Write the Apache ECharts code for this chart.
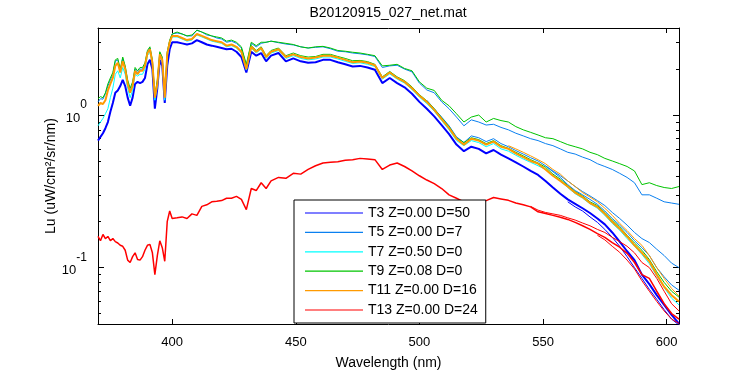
<!DOCTYPE html>
<html>
<head>
<meta charset="utf-8">
<script src="https://cdn.jsdelivr.net/npm/echarts@6/dist/echarts.min.js"></script>
<style>
  html, body { margin: 0; padding: 0; background: #fff; }
  #chart { width: 750px; height: 375px; }
</style>
</head>
<body>
<div id="chart"></div>
<script>
// wavelength grid (nm)
const wavelengths = [
  370, 371, 372, 373, 374, 375, 376, 377, 378, 379, 380, 381, 382, 383, 384, 385, 386, 387, 388, 389,
  390, 391, 392, 393, 394, 395, 396, 397, 398, 399, 400,
  402, 404, 406, 408, 410, 412, 414, 416, 418, 420, 422, 424, 426, 428, 430, 432, 434, 436, 438, 440,
  443, 446, 449, 452, 455, 458, 461, 464, 467, 470, 473, 476, 479, 482, 485, 488, 491, 494, 497, 500,
  503, 506, 509, 512, 515, 518, 521, 524, 527, 530, 533, 536, 539, 542, 545, 548, 551, 554, 557, 560,
  563, 566, 569, 572, 575, 578, 581, 584, 587, 590, 593, 596, 599, 602, 605
]

const names = ['T3 Z=0.00 D=50', 'T5 Z=0.00 D=7', 'T7 Z=0.50 D=0', 'T9 Z=0.08 D=0', 'T11 Z=0.00 D=16', 'T13 Z=0.00 D=24']
const colors = ['#0000ff', '#0a80f0', '#00ffff', '#00c400', '#ff9a00', '#ff0000']

// T3
const t3a = [
  0.68, 0.72, 0.76, 0.82, 0.9, 1.05, 1.2, 1.4, 1.45, 1.55, 1.7, 1.55, 1.3, 1.15, 1.3, 1.6, 1.65, 1.62, 1.65, 1.75,
  2.15, 2.3, 2.0, 1.1, 1.5, 2.3, 2.1, 1.2, 2.1, 2.7, 3.0,
  3.0, 2.95, 2.9, 2.95, 3.1, 3.0, 2.9, 2.85, 2.8, 2.75, 2.7, 2.72, 2.6, 2.4, 1.9, 2.6, 2.45, 2.55, 2.25, 2.45,
  2.55, 2.25, 2.35, 2.25, 2.2, 2.22, 2.3, 2.3, 2.22, 2.15, 2.08, 2.1, 2.05, 1.98, 1.62, 1.75, 1.62, 1.52, 1.38, 1.22,
  1.1, 0.98, 0.86, 0.75, 0.64, 0.58, 0.62, 0.6, 0.56, 0.59, 0.55, 0.52, 0.49, 0.46, 0.43, 0.405, 0.37, 0.335, 0.305, 0.28,
  0.262, 0.245, 0.228, 0.21, 0.192, 0.17, 0.148, 0.128, 0.112, 0.09, 0.078, 0.066, 0.057, 0.049, 0.043
]
const t3b = [0.27, 0.25, 0.235, 0.215, 0.198, 0.178, 0.158, 0.138, 0.118, 0.1, 0.085, 0.072, 0.062, 0.053, 0.046, 0.042] // from 560

// T5
const t5high = [
  1.22, 1.28, 1.27, 1.38, 1.55, 1.7, 1.85, 2.25, 2.3, 1.95, 2.35, 2.05, 1.65, 1.45, 1.6, 2.0, 1.9, 2.0, 2.0, 2.15,
  2.6, 2.75, 2.25, 1.3, 1.65, 2.55, 2.35, 1.3, 2.55, 3.05, 3.4,
  3.45, 3.4, 3.3, 3.3, 3.6, 3.5, 3.35, 3.3, 3.2, 3.15, 3.0, 3.05, 2.95, 2.75, 2.1, 2.95, 2.8, 2.95, 3.0, 3.05,
  2.98, 2.92, 2.88, 2.8, 2.75, 2.78, 2.8, 2.72, 2.62, 2.6, 2.55, 2.52, 2.48, 2.42, 2.05, 2.1, 2.12, 2.0, 1.92, 1.62,
  1.46, 1.4, 1.22, 1.1, 0.97, 0.85, 0.93, 0.9, 0.86, 0.87, 0.83, 0.8, 0.76, 0.73, 0.7, 0.68, 0.65, 0.63, 0.6, 0.57,
  0.555, 0.53, 0.51, 0.48, 0.46, 0.44, 0.415, 0.39, 0.36, 0.3, 0.3, 0.285, 0.27, 0.265, 0.26
]
const t5bundle = [
  1.25, 1.1, 0.97, 0.85, 0.72, 0.66, 0.73, 0.71, 0.67, 0.7, 0.65, 0.62, 0.585, 0.555, 0.525, 0.5, 0.465, 0.425, 0.39, 0.35,
  0.32, 0.3, 0.28, 0.26, 0.235, 0.21, 0.19, 0.17, 0.15, 0.135, 0.12, 0.1, 0.087, 0.077, 0.071
] // from 503
const t5mid = [
  0.465, 0.43, 0.4, 0.37, 0.34, 0.315, 0.295, 0.275, 0.255, 0.23, 0.21, 0.19, 0.17, 0.155, 0.146, 0.132, 0.12, 0.107, 0.1
] // from 551

// T7
const t7 = [
  0.85, 0.9, 0.95, 1.02, 1.1, 1.3, 1.5, 1.85, 1.95, 1.75, 2.05, 1.85, 1.5, 1.3, 1.45, 1.85, 1.8, 1.85, 1.85, 2.0,
  2.45, 2.6, 2.15, 1.25, 1.55, 2.45, 2.25, 1.25, 2.4, 2.95, 3.25,
  3.25, 3.15, 3.05, 3.1, 3.35, 3.25, 3.15, 3.05, 3.0, 2.95, 2.8, 2.85, 2.75, 2.55, 1.97, 2.75, 2.55, 2.7, 2.35, 2.55,
  2.65, 2.35, 2.45, 2.35, 2.3, 2.33, 2.4, 2.4, 2.33, 2.25, 2.18, 2.2, 2.15, 2.08, 1.72, 1.86, 1.72, 1.62, 1.47, 1.31,
  1.19, 1.06, 0.92, 0.8, 0.68, 0.63, 0.68, 0.66, 0.62, 0.65, 0.6, 0.58, 0.545, 0.515, 0.49, 0.465, 0.44, 0.4, 0.37, 0.335,
  0.305, 0.285, 0.262, 0.245, 0.22, 0.195, 0.176, 0.155, 0.138, 0.122, 0.106, 0.088, 0.074, 0.063, 0.057
]

// T9
const t9high = [
  1.28, 1.32, 1.3, 1.4, 1.6, 1.75, 1.9, 2.3, 2.35, 2.0, 2.4, 2.1, 1.7, 1.5, 1.65, 2.05, 1.95, 2.05, 2.05, 2.2,
  2.65, 2.8, 2.3, 1.35, 1.7, 2.6, 2.4, 1.35, 2.6, 3.1, 3.4,
  3.5, 3.4, 3.3, 3.35, 3.6, 3.5, 3.4, 3.3, 3.25, 3.2, 3.05, 3.1, 3.0, 2.8, 2.15, 3.0, 2.85, 3.0, 3.0, 3.05,
  3.0, 2.95, 2.9, 2.8, 2.75, 2.8, 2.82, 2.75, 2.65, 2.62, 2.58, 2.55, 2.5, 2.45, 2.1, 2.12, 2.15, 2.02, 1.95, 1.65,
  1.5, 1.45, 1.25, 1.15, 1.02, 0.9, 0.97, 1.0, 0.9, 0.95, 0.92, 0.9, 0.84, 0.8, 0.77, 0.74, 0.71, 0.7, 0.67, 0.64,
  0.62, 0.6, 0.57, 0.55, 0.52, 0.5, 0.48, 0.46, 0.43, 0.35, 0.36, 0.345, 0.335, 0.33, 0.34
]
const t9bundle = [
  2.7, 2.05, 2.85, 2.65, 2.8, 2.45, 2.65,
  2.75, 2.45, 2.55, 2.45, 2.4, 2.42, 2.5, 2.5, 2.42, 2.35, 2.27, 2.28, 2.24, 2.15, 1.78, 1.93, 1.78, 1.68, 1.53, 1.36,
  1.24, 1.1, 0.96, 0.84, 0.71, 0.66, 0.71, 0.69, 0.65, 0.68, 0.63, 0.605, 0.57, 0.54, 0.51, 0.485, 0.455, 0.41, 0.38, 0.345,
  0.315, 0.295, 0.27, 0.255, 0.23, 0.205, 0.185, 0.163, 0.145, 0.13, 0.113, 0.094, 0.08, 0.07, 0.064
] // from 428

// T11
const t11 = [
  1.15, 1.2, 1.18, 1.25, 1.45, 1.6, 1.75, 2.1, 2.2, 1.9, 2.25, 2.0, 1.6, 1.4, 1.55, 1.95, 1.85, 1.95, 1.95, 2.1,
  2.55, 2.7, 2.2, 1.3, 1.6, 2.5, 2.3, 1.3, 2.5, 3.0, 3.3,
  3.3, 3.2, 3.1, 3.15, 3.4, 3.3, 3.2, 3.1, 3.05, 3.0, 2.85, 2.9, 2.8, 2.6, 2.0, 2.8, 2.6, 2.75, 2.4, 2.6,
  2.7, 2.4, 2.5, 2.4, 2.35, 2.38, 2.45, 2.45, 2.38, 2.3, 2.22, 2.24, 2.2, 2.12, 1.75, 1.9, 1.75, 1.65, 1.5, 1.34,
  1.22, 1.08, 0.94, 0.82, 0.7, 0.64, 0.7, 0.68, 0.64, 0.67, 0.62, 0.6, 0.56, 0.53, 0.5, 0.48, 0.44, 0.4, 0.37, 0.34,
  0.31, 0.29, 0.265, 0.25, 0.225, 0.2, 0.18, 0.16, 0.14, 0.125, 0.11, 0.09, 0.075, 0.066, 0.06
]
const t11thin = [
  0.63, 0.6, 0.57, 0.54, 0.51, 0.48, 0.44, 0.41, 0.37, 0.34, 0.31, 0.29, 0.27, 0.245, 0.22, 0.195, 0.175, 0.155, 0.14, 0.12,
  0.1, 0.085, 0.073, 0.065
] // from 536

// T13
const t13 = [
  0.16, 0.15, 0.165, 0.155, 0.16, 0.15, 0.155, 0.148, 0.145, 0.14, 0.138, 0.13, 0.112, 0.108, 0.118, 0.125, 0.113, 0.112, 0.118, 0.13,
  0.14, 0.142, 0.125, 0.09, 0.12, 0.15, 0.135, 0.11, 0.2, 0.235, 0.21,
  0.212, 0.215, 0.21, 0.225, 0.22, 0.252, 0.258, 0.27, 0.272, 0.275, 0.285, 0.285, 0.293, 0.28, 0.24, 0.33, 0.32, 0.36, 0.33, 0.37,
  0.39, 0.385, 0.415, 0.41, 0.44, 0.465, 0.485, 0.49, 0.495, 0.505, 0.51, 0.52, 0.515, 0.51, 0.44, 0.47, 0.485, 0.46, 0.43, 0.4,
  0.375, 0.355, 0.33, 0.3, 0.285, 0.27, 0.268, 0.265, 0.275, 0.288, 0.282, 0.276, 0.265, 0.258, 0.25, 0.232, 0.226, 0.22, 0.214, 0.207,
  0.198, 0.188, 0.178, 0.167, 0.158, 0.146, 0.136, 0.124, 0.108, 0.09, 0.085, 0.07, 0.058, 0.05, 0.046
]
const t13b = [0.252, 0.238, 0.23, 0.225, 0.22, 0.212, 0.205, 0.196, 0.188, 0.178, 0.17, 0.158, 0.148, 0.138, 0.125, 0.108, 0.1, 0.085, 0.07, 0.058, 0.052] // from 545
const t13c = [0.163, 0.152, 0.138, 0.126, 0.112, 0.098, 0.082, 0.07, 0.06, 0.052, 0.046, 0.043] // from 572

const xTicks = [400, 450, 500, 550, 600]
const yTicks = [0.1, 1]
const yMinorTicks = [0.05, 0.06, 0.07, 0.08, 0.09, 0.2, 0.3, 0.4, 0.5, 0.6, 0.7, 0.8, 0.9, 2, 3]

const X_MIN = 370, X_MAX = 605
const Y_MIN = 0.0427, Y_MAX = 3.72
const font = 'Liberation Sans, Arial, sans-serif'

function pairs(start, vals) {
  const i0 = wavelengths.indexOf(start)
  return vals.map((v, i) => [wavelengths[i0 + i], v])
}

function line(k, data, width) {
  return {
    type: 'line',
    name: names[k],
    data,
    symbol: 'none',
    color: colors[k],
    lineStyle: { width: width || 1, color: colors[k] },
    emphasis: { disabled: true },
  }
}

const chart = echarts.init(document.getElementById('chart'), null, { renderer: 'canvas' })

const xBase = {
  type: 'value', min: X_MIN, max: X_MAX,
  axisLine: { show: true, onZero: false, lineStyle: { color: '#000', width: 1 } },
  axisTick: { show: true, inside: true, length: 5, customValues: xTicks, lineStyle: { color: '#000' } },
  splitLine: { show: false },
}
const yBase = {
  type: 'log', min: Y_MIN, max: Y_MAX,
  axisLine: { show: true, onZero: false, lineStyle: { color: '#000', width: 1 } },
  axisTick: { show: true, inside: true, length: 6, customValues: yTicks, lineStyle: { color: '#000' } },
  splitLine: { show: false },
  axisLabel: { show: false },
}
const yMinor = {
  type: 'log', min: Y_MIN, max: Y_MAX,
  axisLine: { show: false },
  axisTick: { show: true, inside: true, length: 3, customValues: yMinorTicks, lineStyle: { color: '#000' } },
  splitLine: { show: false },
  axisLabel: { show: false },
}

chart.setOption({
  animation: false,
  backgroundColor: '#fff',
  textStyle: { fontFamily: font },
  title: {
    text: 'B20120915_027_net.mat',
    left: 388, top: 6, padding: 0, textAlign: 'center',
    textStyle: { fontSize: 14, fontWeight: 'normal', color: '#000', fontFamily: font },
  },
  grid: { left: 98, right: 71, top: 28, bottom: 44 },
  legend: {
    data: names.map((n, i) => ({ name: n, itemStyle: { color: colors[i], opacity: 1 } })),
    icon: 'rect',
    orient: 'vertical',
    left: 294, top: 200,
    backgroundColor: '#fff',
    borderColor: '#000', borderWidth: 1, borderRadius: 0,
    padding: [6, 8, 6, 11],
    itemWidth: 58, itemHeight: 1.2, itemGap: 5.4,
    textStyle: { fontSize: 14, color: '#000', fontFamily: font },
    z: 10,
  },
  xAxis: [
    Object.assign({}, xBase, {
      position: 'bottom',
      name: 'Wavelength (nm)', nameLocation: 'middle', nameGap: 32, nameMoveOverlap: false,
      nameTextStyle: { fontSize: 14, color: '#000', fontFamily: font },
      axisLabel: { show: true, customValues: xTicks, color: '#000', fontSize: 13, margin: 12, fontFamily: font },
    }),
    Object.assign({}, xBase, { position: 'top', axisLabel: { show: false } }),
  ],
  yAxis: [
    Object.assign({}, yBase, {
      position: 'left',
      name: 'Lu (uW/cm²/sr/nm)', nameLocation: 'middle', nameGap: 40, nameMoveOverlap: false,
      nameTextStyle: { fontSize: 14, color: '#000', fontFamily: font },
      axisLabel: {
        show: true, customValues: yTicks, margin: 11, color: '#000', fontFamily: font,
        formatter: (v) => '{b|10}{e|' + Math.round(Math.log10(v)) + '}',
        rich: {
          b: { fontSize: 13, color: '#000', fontFamily: font, padding: [16, 0, 10, 0] },
          e: { fontSize: 12, color: '#000', fontFamily: font, padding: [3, 0, 23, 0] },
        },
      },
    }),
    Object.assign({}, yBase, { position: 'right' }),
    Object.assign({}, yMinor, { position: 'left' }),
    Object.assign({}, yMinor, { position: 'right' }),
  ],
  series: [
    line(0, pairs(370, t3a), 2),
    line(0, pairs(560, t3b), 1),
    line(1, pairs(370, t5high), 1),
    line(1, pairs(503, t5bundle), 1),
    line(1, pairs(551, t5mid), 1),
    line(2, pairs(370, t7), 1),
    line(3, pairs(370, t9high), 1),
    line(3, pairs(428, t9bundle), 1),
    line(4, pairs(370, t11), 2),
    line(4, pairs(536, t11thin), 1),
    line(5, pairs(370, t13), 1.5),
    line(5, pairs(545, t13b), 1),
    line(5, pairs(572, t13c), 1),
  ],
})

window.addEventListener('resize', () => chart.resize())
</script>
</body>
</html>
